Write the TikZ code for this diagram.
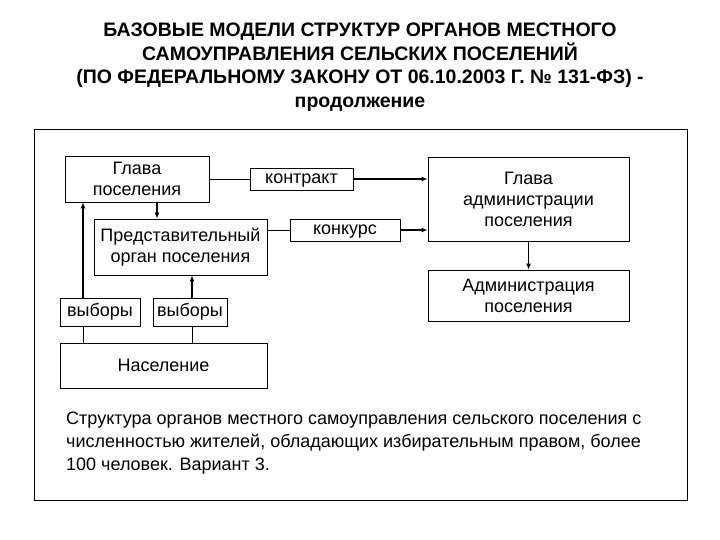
\documentclass[tikz,border=0pt]{standalone}
\usepackage{fontspec}
\setmainfont{Liberation Sans}
\usetikzlibrary{arrows.meta}
\begin{document}
\begin{tikzpicture}[x=1pt,y=-1pt,
 box/.style={draw,thick,inner sep=0pt,align=center,font=\fontsize{18}{21}\selectfont},
 arr/.style={-{Latex[length=6pt,width=5pt]},line width=1.2pt},
 thin/.style={line width=0.6pt}]
\useasboundingbox (0,0) rectangle (720,540);
\node[font=\bfseries\fontsize{19.5}{23.5}\selectfont,align=center] (title) at (360,67)
 {БАЗОВЫЕ МОДЕЛИ СТРУКТУР ОРГАНОВ МЕСТНОГО\\САМОУПРАВЛЕНИЯ СЕЛЬСКИХ ПОСЕЛЕНИЙ\\(ПО ФЕДЕРАЛЬНОМУ ЗАКОНУ ОТ 06.10.2003 Г. № 131-ФЗ) -\\продолжение};
\draw[thick] (34,129) rectangle (687,500);
\node[box,minimum width=144pt,minimum height=46pt] (g) at (137,179) {Глава\\поселения};
\node[box,minimum width=103pt,minimum height=22pt,text depth=2pt,text height=12pt] (k) at (301.5,179) {контракт};
\node[box,minimum width=201pt,minimum height=84pt] (ga) at (528.5,199) {Глава\\администрации\\поселения};
\node[box,minimum width=173pt,minimum height=56pt] (p) at (180.5,247) {Представительный\\орган поселения};
\node[box,minimum width=110pt,minimum height=22pt,text depth=2pt,text height=12pt] (ks) at (345,230) {конкурс};
\node[box,minimum width=201pt,minimum height=51pt] (a) at (528.5,295.5) {Администрация\\поселения};
\node[box,minimum width=80pt,minimum height=28pt] (v1) at (100,312) {выборы};
\node[box,minimum width=74pt,minimum height=28pt] (v2) at (190,312) {выборы};
\node[box,minimum width=207pt,minimum height=45pt] (n) at (163.5,365.5) {Население};
\draw[thin] (g.east) -- (k.west);
\draw[arr] (k.east) -- (ga.west |- k.east);
\draw[thin] (p.east |- ks.west) -- (ks.west);
\draw[arr] (ks.east) -- (ga.west |- ks.east);
\draw[arr] (g.south -| 157,0) -- (p.north -| 157,0);
\draw[arr] (ga.south) -- (a.north);
\draw[arr] (v1.north -| 83,0) -- (g.south -| 83,0);
\draw[arr] (v2.north -| 192,0) -- (p.south -| 192,0);
\draw[thin] (v1.south -| 83,0) -- (n.north -| 83,0);
\draw[thin] (v2.south -| 192,0) -- (n.north -| 192,0);
\node[anchor=north west,align=left,font=\fontsize{18}{23}\selectfont,inner sep=0pt] (cap) at (66,412)
 {Структура органов местного самоуправления сельского поселения с\\численностью жителей, обладающих избирательным правом, более\\100 человек. Вариант 3.};
\end{tikzpicture}
\end{document}
